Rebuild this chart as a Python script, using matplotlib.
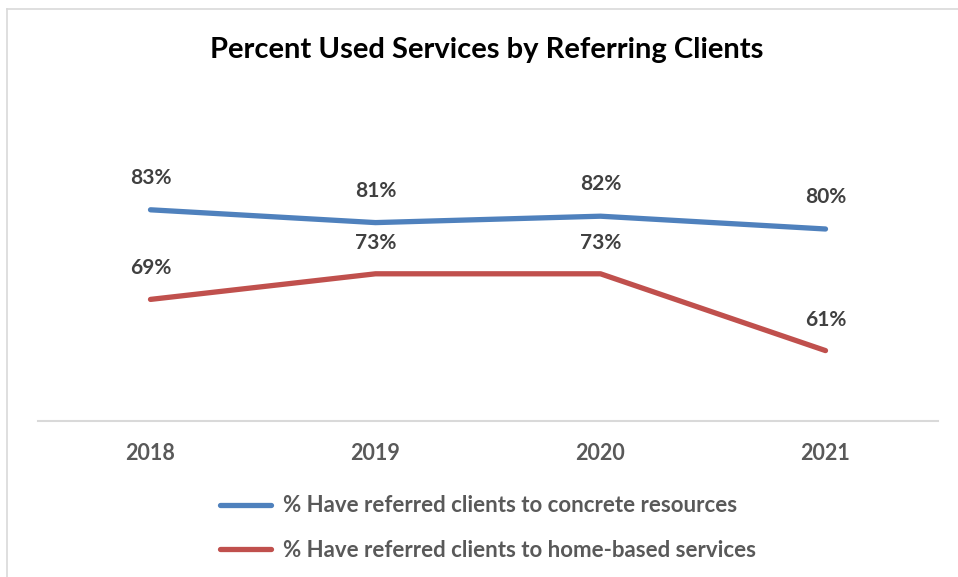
import matplotlib
matplotlib.use("Agg")
import matplotlib.pyplot as plt
from matplotlib.lines import Line2D

plt.rcParams['font.family'] = ['Lato', 'DejaVu Sans']
plt.rcParams['font.weight'] = 'bold'

years = ["2018", "2019", "2020", "2021"]
concrete = [83, 81, 82, 80]
home_based = [69, 73, 73, 61]
series_names = ["% Have referred clients to concrete resources",
                "% Have referred clients to home-based services"]

BLUE = "#4F81BD"
RED = "#C0504D"

fig = plt.figure(figsize=(9.58, 5.77), dpi=100)
ax = fig.add_axes([38 / 958, 1 - 421 / 577, 900 / 958, 320 / 577])

x = range(len(years))
ax.plot(x, concrete, color=BLUE, lw=3.8, solid_capstyle='round', solid_joinstyle='round')
ax.plot(x, home_based, color=RED, lw=3.8, solid_capstyle='round', solid_joinstyle='round')

for xi, v in zip(x, concrete):
    ax.annotate(f"{v}%", (xi, v), xytext=(0, 32), textcoords='offset pixels',
                ha='center', va='center', fontsize=15, color='#404040', fontweight='bold')
for xi, v in zip(x, home_based):
    ax.annotate(f"{v}%", (xi, v), xytext=(0, 31), textcoords='offset pixels',
                ha='center', va='center', fontsize=15, color='#404040', fontweight='bold')

ax.set_xlim(-0.5, 3.5)
ax.set_ylim(50, 100)
ax.set_xticks(list(x))
ax.set_xticklabels(years, fontsize=15.5, color='#595959', fontweight='bold')
ax.tick_params(axis='x', length=0, pad=15.5)
ax.set_yticks([])
for side in ['top', 'left', 'right']:
    ax.spines[side].set_visible(False)
ax.spines['bottom'].set_color('#D9D9D9')
ax.spines['bottom'].set_linewidth(1.5)

fig.text(487 / 958, 1 - 50 / 577, "Percent Used Services by Referring Clients",
         ha='center', va='center', fontsize=21, fontweight='bold', color='black')

handles = [Line2D([], [], color=BLUE, lw=3.8, solid_capstyle='round'),
           Line2D([], [], color=RED, lw=3.8, solid_capstyle='round')]
leg = fig.legend(handles, series_names, loc='center', bbox_to_anchor=(488 / 958, 1 - 528 / 577),
                 frameon=False, fontsize=16, handlelength=2.3, handletextpad=0.55,
                 labelspacing=1.05, labelcolor='#595959')
for t in leg.get_texts():
    t.set_fontweight('bold')

# thin chart border along the top and left edges
fig.add_artist(Line2D([7 / 958, 1], [1 - 9 / 577, 1 - 9 / 577], color='#D9D9D9', lw=1.2))
fig.add_artist(Line2D([7 / 958, 7 / 958], [0, 1 - 9 / 577], color='#D9D9D9', lw=1.2))

fig.savefig("out.png", dpi=100)
